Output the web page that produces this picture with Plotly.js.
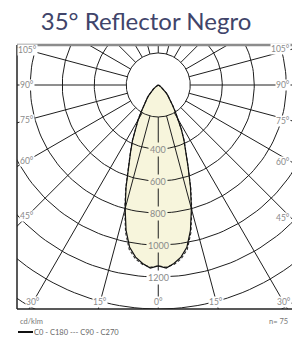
<!DOCTYPE html>
<html><head><meta charset="utf-8">
<script src="https://cdn.plot.ly/plotly-3.0.1.min.js"></script>
<style>html,body{margin:0;padding:0;background:#fff}#chart{width:292px;height:337px}</style>
</head><body><div id="chart"></div>
<script>
const chartTitle = '35° Reflector Negro';
const angles  = [0,2.5,5,7.5,10,12.5,15,17.5,20,22.5,25,27.5,30,32.5,35,37.5,40,42.5,45,47.5,50,55,60,65,70,80,90];
const c0c180  = [1130,1145,1120,1085,1030,930,800,670,545,452,380,312,252,198,158,132,108,88,70,54,40,20,7,0,0,0,0];
const c90c270 = [1130,1140,1126,1096,1044,944,810,676,548,455,382,314,254,200,160,133,109,88,70,54,40,20,7,0,0,0,0];
const ringValues = [200,400,600,800,1000,1200,1400,1600,1800];
const ringLabels = [400,600,800,1000,1200];
const gridAngles = [0,15,30,45,60,75,90,105,120,135,150,165,180,195,210,225,240,255,270,285,300,315,330,345];
const sideLabelAngles = [45,60,75,90,105];
const bottomLabelAngles = [0,15,30];
const unitLabel = 'cd/klm';
const countLabel = 'n= 75';
const legendLabel = 'C0 - C180 --- C90 - C270';

const FONT = 'Lato, "Open Sans", sans-serif';
const FILL = '#f7f5dc';
const GRID = '#1e1e1e';
const LBL = '#8a8a8a';
const X0 = -883, X1 = 836, Y0 = -1400, Y1 = 250;
const PX = 6.25; // data units per pixel
const rad = d => d * Math.PI / 180;

function curve(vals) {
  const xs = [], ys = [];
  for (let i = angles.length - 1; i >= 0; i--) {
    const a = -rad(angles[i]);
    xs.push(vals[i] * Math.sin(a)); ys.push(-vals[i] * Math.cos(a));
  }
  for (let i = 1; i < angles.length; i++) {
    const a = rad(angles[i]);
    xs.push(vals[i] * Math.sin(a)); ys.push(-vals[i] * Math.cos(a));
  }
  return {xs, ys};
}

const solid = curve(c0c180);
const dashed = curve(c90c270);

const rx = [], ry = [];
ringValues.forEach(r => {
  for (let d = 0; d <= 360; d += 2) { rx.push(r * Math.sin(rad(d))); ry.push(-r * Math.cos(rad(d))); }
  rx.push(null); ry.push(null);
});
const gx = [], gy = [];
gridAngles.forEach(d => {
  const s = Math.sin(rad(d)), c = Math.cos(rad(d));
  gx.push(ringValues[0] * s, 4000 * s, null);
  gy.push(-ringValues[0] * c, -4000 * c, null);
});

const traces = [
  {x: solid.xs, y: solid.ys, mode: 'lines', fill: 'toself', fillcolor: FILL, line: {width: 0, color: FILL}, hoverinfo: 'skip'},
  {x: rx, y: ry, mode: 'lines', line: {color: GRID, width: 1}, hoverinfo: 'skip'},
  {x: gx, y: gy, mode: 'lines', line: {color: GRID, width: 1}, hoverinfo: 'skip'},
  {x: dashed.xs, y: dashed.ys, mode: 'lines', line: {color: '#333', width: 1.1, dash: '3px,2px'}, hoverinfo: 'skip'},
  {x: solid.xs, y: solid.ys, mode: 'lines', line: {color: '#111', width: 1.2}, hoverinfo: 'skip'}
];

const annotations = [];
ringLabels.forEach(v => {
  annotations.push({x: 0, y: -v, xref: 'x', yref: 'y', text: String(v), showarrow: false,
    font: {family: FONT, size: 9, color: LBL}, bgcolor: v < c0c180[0] ? FILL : '#ffffff', borderpad: 1});
});
const frameHalf = -X0;
sideLabelAngles.forEach(d => {
  const s = Math.sin(rad(d)), c = Math.cos(rad(d));
  const xx = frameHalf - 10 * PX;
  const r = xx / s;
  annotations.push({x: -xx, y: -r * c, xref: 'x', yref: 'y', text: d + '°', showarrow: false,
    font: {family: FONT, size: 8.5, color: LBL}, bgcolor: '#ffffff', borderpad: 0});
  const xr = X1 - 1 * PX;
  const rr = xr / s;
  annotations.push({x: xr, y: -rr * c, xref: 'x', yref: 'y', xanchor: 'right', text: d + '°', showarrow: false,
    font: {family: FONT, size: 8.5, color: LBL}, bgcolor: '#ffffff', borderpad: 0});
});
bottomLabelAngles.forEach(d => {
  const s = Math.sin(rad(d)), c = Math.cos(rad(d));
  const yy = -Y0 - 7 * PX;
  const r = yy / c;
  const sides = d === 0 ? [1] : [-1, 1];
  sides.forEach(side => {
    annotations.push({x: side * r * s, y: -yy, xref: 'x', yref: 'y', text: d + '°', showarrow: false,
      font: {family: FONT, size: 8.5, color: LBL}, bgcolor: '#ffffff', borderpad: 0});
  });
});
const ph = 264, pw = 275;
annotations.push({x: 1 / pw, y: -12 / ph, xref: 'paper', yref: 'paper', xanchor: 'left', yanchor: 'middle',
  text: unitLabel, showarrow: false, font: {family: FONT, size: 7.5, color: '#777'}});
annotations.push({x: 273 / pw, y: -12 / ph, xref: 'paper', yref: 'paper', xanchor: 'right', yanchor: 'middle',
  text: countLabel, showarrow: false, font: {family: FONT, size: 7.5, color: '#777'}});
annotations.push({x: 15 / pw, y: -23 / ph, xref: 'paper', yref: 'paper', xanchor: 'left', yanchor: 'middle',
  text: legendLabel, showarrow: false, font: {family: FONT, size: 7.5, color: '#666'}});

const shapes = [
  {type: 'line', xref: 'paper', yref: 'paper', x0: 0, x1: 1, y0: 1, y1: 1, line: {color: '#8c8c8c', width: 2.5}},
  {type: 'line', xref: 'paper', yref: 'paper', x0: 0, x1: 0, y0: 0, y1: 1, line: {color: '#222', width: 1.5}},
  {type: 'line', xref: 'paper', yref: 'paper', x0: 0, x1: 1, y0: 0, y1: 0, line: {color: '#222', width: 1.5}},
  {type: 'line', xref: 'paper', yref: 'paper', x0: 1 / pw, x1: 16 / pw, y0: -23 / ph, y1: -23 / ph, line: {color: '#111', width: 2}}
];

const layout = {
  width: 292, height: 337,
  margin: {l: 17, r: 0, t: 45, b: 28, pad: 0},
  paper_bgcolor: '#fff', plot_bgcolor: '#fff',
  showlegend: false,
  title: {text: chartTitle, font: {family: FONT, size: 24, color: '#40446a'}, x: 0.5, xref: 'container',
    y: 1 - 22 / 337, yref: 'container', yanchor: 'middle', xanchor: 'center'},
  xaxis: {range: [X0, X1], visible: false, fixedrange: true},
  yaxis: {range: [Y0, Y1], visible: false, fixedrange: true},
  annotations, shapes
};
Plotly.newPlot('chart', traces, layout, {staticPlot: true, displayModeBar: false});
</script></body></html>
